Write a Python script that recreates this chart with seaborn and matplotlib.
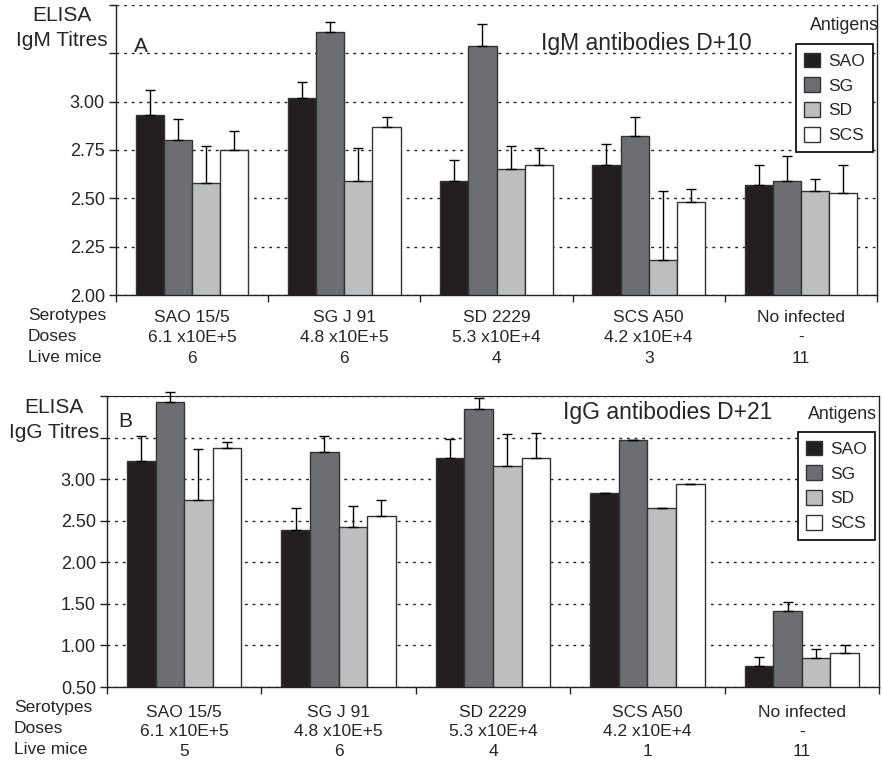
import os
import numpy as np
import pandas as pd
import matplotlib
matplotlib.use("Agg")
import matplotlib.pyplot as plt
import matplotlib.font_manager as fm
import seaborn as sns

# avoid the condensed ("Narrow") Liberation variant being picked for "Liberation Sans"
fm.fontManager.ttflist = [f for f in fm.fontManager.ttflist
                          if "narrow" not in f.name.lower()
                          and "narrow" not in os.path.basename(f.fname).lower()]
for obj in (fm.fontManager, fm.FontManager):
    try:
        obj._findfont_cached.cache_clear()
    except Exception:
        pass

# ---------------- data ----------------
groups = ["SAO 15/5", "SG J 91", "SD 2229", "SCS A50", "No infected"]
doses = ["6.1 x10E+5", "4.8 x10E+5", "5.3 x10E+4", "4.2 x10E+4", "-"]
live_a = ["6", "6", "4", "3", "11"]
live_b = ["5", "6", "4", "1", "11"]
antigens = ["SAO", "SG", "SD", "SCS"]
row_names = ["Serotypes", "Doses", "Live mice"]

igm_sao = [2.93, 3.02, 2.59, 2.67, 2.57]
igm_sg = [2.80, 3.36, 3.29, 2.82, 2.59]
igm_sd = [2.58, 2.59, 2.65, 2.18, 2.54]
igm_scs = [2.75, 2.87, 2.67, 2.48, 2.53]
igm_err_sao = [0.13, 0.08, 0.11, 0.11, 0.10]
igm_err_sg = [0.11, 0.05, 0.11, 0.10, 0.13]
igm_err_sd = [0.19, 0.17, 0.12, 0.36, 0.06]
igm_err_scs = [0.10, 0.05, 0.09, 0.07, 0.14]

igg_sao = [3.22, 2.39, 3.26, 2.83, 0.75]
igg_sg = [3.93, 3.33, 3.84, 3.47, 1.41]
igg_sd = [2.75, 2.42, 3.16, 2.65, 0.85]
igg_scs = [3.38, 2.56, 3.26, 2.94, 0.91]
igg_err_sao = [0.30, 0.26, 0.22, 0.0, 0.11]
igg_err_sg = [0.12, 0.19, 0.14, 0.0, 0.11]
igg_err_sd = [0.61, 0.26, 0.38, 0.0, 0.11]
igg_err_scs = [0.07, 0.19, 0.30, 0.0, 0.10]

yticks_a = [2.0, 2.25, 2.5, 2.75, 3.0, 3.25, 3.5]
yticklabels_a = ["2.00", "2.25", "2.50", "2.75", "3.00", "", ""]
yticks_b = [0.5, 1.0, 1.5, 2.0, 2.5, 3.0, 3.5, 4.0]
yticklabels_b = ["0.50", "1.00", "1.50", "2.00", "2.50", "3.00", "", ""]

colors = ["#231f20", "#6d6e71", "#bcbec0", "#ffffff"]

# ---------------- style ----------------
sns.set_style("white")
plt.rcParams["font.family"] = ["Liberation Sans", "DejaVu Sans"]
plt.rcParams["font.stretch"] = "normal"
plt.rcParams["axes.edgecolor"] = "#222222"

W, H = 882, 762
fig = plt.figure(figsize=(W / 100, H / 100), dpi=100)


def frac_box(x0, y0, x1, y1):
    return [x0 / W, 1 - y1 / H, (x1 - x0) / W, (y1 - y0) / H]


def build_df(vals, errs):
    rows = []
    for a, v, e in zip(antigens, vals, errs):
        for g, vv, ee in zip(groups, v, e):
            rows.append({"group": g, "antigen": a, "value": vv, "err": ee})
    return pd.DataFrame(rows)


df_a = build_df([igm_sao, igm_sg, igm_sd, igm_scs],
                [igm_err_sao, igm_err_sg, igm_err_sd, igm_err_scs])
df_b = build_df([igg_sao, igg_sg, igg_sd, igg_scs],
                [igg_err_sao, igg_err_sg, igg_err_sd, igg_err_scs])


def panel(ax, df, ylim, yticks, yticklabels, live, legend_anchor, xpad, xls):
    sns.barplot(data=df, x="group", y="value", hue="antigen", order=groups,
                hue_order=antigens, palette=colors, saturation=1, width=0.74,
                gap=0, errorbar=None, edgecolor="#333333", linewidth=1.0, ax=ax)
    # error bars (upper only)
    for a, cont in zip(antigens, ax.containers):
        sub = df[df["antigen"] == a].set_index("group")
        xs, ys, es = [], [], []
        for bar in cont.patches:
            xc = bar.get_x() + bar.get_width() / 2
            gi = int(round(xc))
            xs.append(xc)
            ys.append(bar.get_height())
            es.append(sub.loc[groups[gi], "err"])
        ax.errorbar(xs, ys, yerr=[np.zeros(len(es)), es], fmt="none",
                    ecolor="black", elinewidth=1, capsize=3.5, capthick=1,
                    clip_on=False, zorder=5)
    ax.set_xlim(-0.5, len(groups) - 0.5)
    ax.set_ylim(*ylim)
    ax.set_yticks(yticks)
    ax.set_yticklabels(yticklabels)
    ax.set_xticks(np.arange(-0.5, len(groups), 1.0))
    ax.set_xticklabels([""] * (len(groups) + 1))
    ax.set_xticks(np.arange(len(groups)), minor=True)
    ax.set_xticklabels([f"{g}\n{d}\n{l}" for g, d, l in zip(groups, doses, live)],
                       minor=True, fontsize=12.5, linespacing=xls)
    ax.tick_params(axis="x", which="minor", length=0, pad=xpad)
    ax.tick_params(axis="x", which="major", length=5, width=1, direction="out",
                   color="#222222", bottom=True)
    ax.tick_params(axis="y", length=5, width=1, direction="out", labelsize=13,
                   pad=3, color="#222222", left=True)
    ax.set_xlabel("")
    ax.set_ylabel("")
    ax.set_axisbelow(True)
    ax.yaxis.grid(True, linestyle=(0, (2, 3.5)), color="#222222", linewidth=1)
    for s in ["left", "bottom", "right"]:
        ax.spines[s].set_visible(True)
        ax.spines[s].set_linewidth(1)
    old = ax.get_legend()
    handles = old.legend_handles
    labels = [t.get_text() for t in old.get_texts()]
    leg = ax.legend(handles, labels, loc="upper right", bbox_to_anchor=legend_anchor,
                    borderaxespad=0, fontsize=12.5, handlelength=0.9,
                    handleheight=0.9, handletextpad=0.45, borderpad=0.49,
                    labelspacing=0.5, fancybox=False, framealpha=1,
                    edgecolor="black")
    leg.get_frame().set_linewidth(1.2)
    return ax


# ---------------- panel A ----------------
ax1 = fig.add_axes(frac_box(116, 5, 877, 295))
panel(ax1, df_a, (2.0, 3.5), yticks_a, yticklabels_a, live_a,
      ((873 - 116) / 761, (295 - 44) / 290), 10.5, 1.48)
ax1.spines["top"].set_visible(False)

# ---------------- panel B ----------------
ax2 = fig.add_axes(frac_box(107, 396, 879, 687))
panel(ax2, df_b, (0.5, 4.0), yticks_b, yticklabels_b, live_b,
      ((875 - 107) / 772, (687 - 432) / 291), 13, 1.36)
ax2.spines["top"].set_visible(True)
ax2.spines["top"].set_linewidth(0.8)

# ---------------- texts ----------------
def ftext(x, y, s, **kw):
    fig.text(x / W, 1 - y / H, s, **kw)


ftext(62, 6, "ELISA\nIgM Titres", ha="center", va="top", fontsize=15,
      linespacing=1.4, multialignment="center")
ftext(54, 398, "ELISA\nIgG Titres", ha="center", va="top", fontsize=15,
      linespacing=1.38, multialignment="center")
ftext(134, 52, "A", ha="left", va="baseline", fontsize=15)
ftext(118, 427, "B", ha="left", va="baseline", fontsize=15)
ftext(646, 50, "IgM antibodies D+10", ha="center", va="baseline", fontsize=16.5)
ftext(668, 419, "IgG antibodies D+21", ha="center", va="baseline", fontsize=16.5)
ftext(879, 30, "Antigens", ha="right", va="baseline", fontsize=12.8)
ftext(877, 419, "Antigens", ha="right", va="baseline", fontsize=12.8)
ftext(28, 308, "\n".join(row_names), ha="left", va="top", fontsize=12.5,
      linespacing=1.49)
ftext(14, 700, "\n".join(row_names), ha="left", va="top", fontsize=12.5,
      linespacing=1.51)

fig.savefig("out.png", dpi=100)
